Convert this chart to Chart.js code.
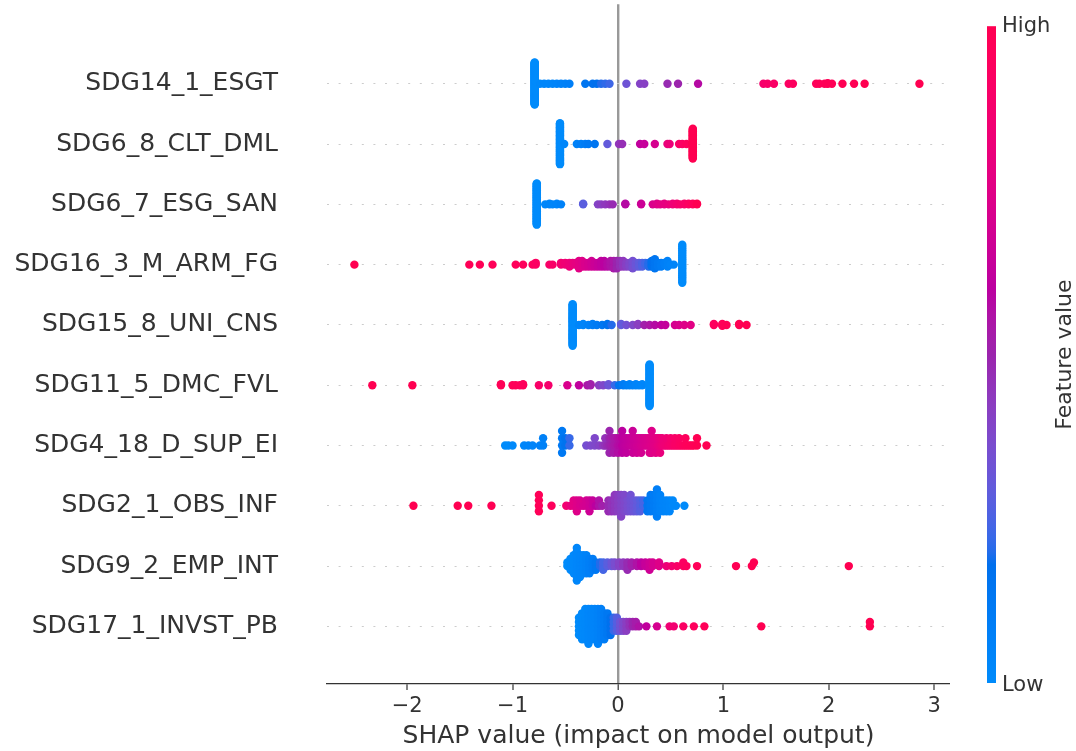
<!DOCTYPE html>
<html>
<head>
<meta charset="utf-8">
<script src="https://cdn.jsdelivr.net/npm/chart.js@4"></script>
<style>
  body { margin: 0; background: #fff; }
  canvas { display: block; }
</style>
</head>
<body>
<canvas id="shapChart" width="1076" height="751"></canvas>
<script>
// feature names, most important first (top row)
const features = ['SDG14_1_ESGT', 'SDG6_8_CLT_DML', 'SDG6_7_ESG_SAN', 'SDG16_3_M_ARM_FG', 'SDG15_8_UNI_CNS',
    'SDG11_5_DMC_FVL', 'SDG4_18_D_SUP_EI', 'SDG2_1_OBS_INF', 'SDG9_2_EMP_INT', 'SDG17_1_INVST_PB'];
const xTicks = [-2, -1, 0, 1, 2, 3];

// each entry: [shap value, feature value (0 = low, 1 = high), number of samples]
const esgt = [[-0.79, 0, 88],
    [-0.74, 0.02, 1], [-0.70, 0.03, 1], [-0.66, 0.03, 1], [-0.62, 0.04, 1], [-0.58, 0.05, 1], [-0.54, 0.06, 1], [-0.50, 0.07, 1], [-0.46, 0.08, 1],
    [-0.31, 0.15, 1], [-0.24, 0.17, 1], [-0.20, 0.18, 1], [-0.16, 0.2, 1], [-0.12, 0.21, 1], [-0.08, 0.23, 1],
    [0.08, 0.33, 1], [0.21, 0.4, 1], [0.25, 0.41, 1], [0.47, 0.48, 1], [0.57, 0.5, 1], [0.76, 0.58, 1],
    [1.38, 0.88, 1], [1.42, 0.9, 1], [1.48, 0.91, 1], [1.62, 0.93, 1], [1.66, 0.94, 1],
    [1.88, 0.96, 1], [1.91, 0.97, 1], [1.96, 0.97, 1], [1.99, 0.98, 2], [2.03, 0.98, 1], [2.13, 0.99, 1], [2.24, 0.99, 1], [2.34, 1, 1], [2.86, 1, 1]];
const cltDml = [[-0.55, 0, 52], [-0.51, 0.03, 1],
    [-0.39, 0.06, 1], [-0.35, 0.08, 1], [-0.31, 0.1, 1], [-0.28, 0.12, 1], [-0.22, 0.15, 1], [-0.10, 0.3, 1],
    [0.01, 0.45, 1], [0.04, 0.47, 1], [0.21, 0.62, 1], [0.25, 0.64, 1], [0.35, 0.7, 1], [0.47, 0.8, 1], [0.49, 0.82, 1],
    [0.58, 0.9, 1], [0.61, 0.92, 1], [0.65, 0.95, 1], [0.71, 1, 38]];
const esgSan = [[-0.77, 0, 60],
    [-0.69, 0.03, 1], [-0.65, 0.04, 2], [-0.62, 0.04, 1], [-0.58, 0.05, 2], [-0.54, 0.06, 1],
    [-0.33, 0.28, 2],
    [-0.19, 0.4, 1], [-0.16, 0.42, 1], [-0.12, 0.44, 1], [-0.08, 0.46, 1], [-0.05, 0.48, 1],
    [0.07, 0.58, 2], [0.22, 0.66, 2],
    [0.33, 0.72, 1], [0.37, 0.74, 2], [0.40, 0.76, 1], [0.44, 0.78, 2], [0.48, 0.8, 1], [0.52, 0.83, 2],
    [0.56, 0.86, 2], [0.59, 0.88, 1], [0.63, 0.9, 2], [0.67, 0.93, 2], [0.71, 0.96, 2], [0.75, 1, 2]];
const armFg = [[-2.50, 1, 1], [-1.41, 0.98, 1], [-1.31, 0.98, 1], [-1.19, 0.97, 1],
    [-0.97, 0.96, 1], [-0.90, 0.95, 1], [-0.81, 0.94, 1], [-0.78, 0.93, 2], [-0.65, 0.9, 1], [-0.62, 0.9, 1],
    [-0.54, 0.86, 2], [-0.50, 0.84, 2], [-0.46, 0.82, 3], [-0.43, 0.8, 2], [-0.40, 0.78, 2], [-0.37, 0.76, 3],
    [-0.34, 0.74, 4], [-0.31, 0.72, 3], [-0.28, 0.7, 3], [-0.25, 0.68, 4], [-0.22, 0.66, 3], [-0.19, 0.64, 3],
    [-0.16, 0.62, 4], [-0.13, 0.6, 4], [-0.10, 0.58, 3], [-0.07, 0.56, 4], [-0.04, 0.54, 5], [-0.01, 0.5, 5],
    [0.02, 0.47, 4], [0.05, 0.44, 4], [0.08, 0.41, 3], [0.11, 0.38, 3], [0.14, 0.35, 5], [0.17, 0.32, 3],
    [0.20, 0.29, 3], [0.23, 0.26, 3], [0.26, 0.23, 2], [0.29, 0.2, 3], [0.32, 0.17, 4], [0.35, 0.14, 6],
    [0.38, 0.12, 3], [0.41, 0.1, 3], [0.44, 0.08, 2], [0.47, 0.06, 2], [0.50, 0.05, 1], [0.53, 0.04, 1],
    [0.61, 0, 22]];
const uniCns = [[-0.43, 0, 45],
    [-0.37, 0.04, 1], [-0.33, 0.05, 2], [-0.28, 0.07, 1], [-0.24, 0.09, 2], [-0.20, 0.11, 1], [-0.15, 0.14, 1], [-0.10, 0.17, 2], [-0.06, 0.2, 1],
    [0.03, 0.3, 2], [0.08, 0.34, 1], [0.14, 0.38, 1], [0.19, 0.42, 2],
    [0.25, 0.52, 1], [0.30, 0.55, 1], [0.35, 0.58, 1], [0.41, 0.61, 1], [0.45, 0.63, 1],
    [0.54, 0.7, 1], [0.58, 0.72, 1], [0.63, 0.74, 1], [0.69, 0.76, 1],
    [0.91, 0.95, 2], [0.99, 0.97, 3], [1.03, 0.98, 1], [1.15, 0.99, 2], [1.22, 1, 1]];
const dmcFvl = [[-2.33, 1, 1], [-1.95, 1, 1], [-1.11, 0.98, 2], [-1.00, 0.97, 1], [-0.97, 0.97, 1], [-0.93, 0.96, 1], [-0.90, 0.96, 2],
    [-0.75, 0.9, 1], [-0.66, 0.88, 1], [-0.48, 0.72, 1], [-0.37, 0.62, 1], [-0.29, 0.55, 1], [-0.26, 0.52, 2],
    [-0.18, 0.42, 1], [-0.14, 0.38, 1], [-0.09, 0.32, 2], [-0.03, 0.22, 1], [0.01, 0.15, 1],
    [0.05, 0.1, 2], [0.08, 0.08, 1], [0.11, 0.07, 2], [0.14, 0.06, 1], [0.17, 0.05, 2], [0.20, 0.04, 1], [0.23, 0.03, 2],
    [0.30, 0, 45]];
const supEi = [[-1.07, 0, 1], [-1.04, 0, 1], [-1.00, 0.01, 1],
    [-0.89, 0.03, 1], [-0.85, 0.04, 1], [-0.81, 0.05, 1], [-0.74, 0.06, 1], [-0.71, 0.07, 2],
    [-0.53, 0.12, 4], [-0.50, 0.16, 2], [-0.46, 0.22, 2],
    [-0.30, 0.35, 1], [-0.26, 0.37, 1], [-0.22, 0.38, 2], [-0.18, 0.4, 1],
    [-0.14, 0.44, 1], [-0.12, 0.46, 2], [-0.10, 0.48, 1], [-0.08, 0.5, 4], [-0.06, 0.52, 2], [-0.04, 0.54, 3],
    [-0.02, 0.55, 2], [0.00, 0.57, 3], [0.02, 0.58, 2], [0.04, 0.6, 4], [0.06, 0.61, 2], [0.08, 0.62, 3],
    [0.10, 0.63, 2], [0.12, 0.64, 2], [0.14, 0.65, 4], [0.16, 0.66, 2], [0.18, 0.67, 3], [0.20, 0.68, 2],
    [0.22, 0.69, 3], [0.24, 0.7, 2], [0.26, 0.71, 2], [0.28, 0.72, 2], [0.30, 0.73, 3], [0.32, 0.74, 4],
    [0.34, 0.75, 2], [0.36, 0.76, 3], [0.38, 0.78, 2], [0.40, 0.8, 3], [0.42, 0.82, 2], [0.44, 0.83, 1],
    [0.46, 0.84, 2], [0.48, 0.86, 1], [0.50, 0.87, 2], [0.52, 0.88, 1], [0.54, 0.9, 2], [0.56, 0.9, 1],
    [0.58, 0.92, 2], [0.60, 0.93, 1], [0.62, 0.94, 1], [0.64, 0.95, 2], [0.66, 0.96, 1], [0.68, 0.96, 1],
    [0.70, 0.97, 1], [0.72, 0.98, 1], [0.75, 0.99, 2], [0.84, 1, 1]];
const obsInf = [[-1.94, 1, 1], [-1.52, 1, 1], [-1.42, 1, 1], [-1.20, 0.99, 1],
    [-0.75, 0.97, 4], [-0.63, 0.95, 1],
    [-0.49, 0.86, 1], [-0.45, 0.8, 1], [-0.42, 0.76, 2], [-0.39, 0.74, 3], [-0.36, 0.72, 2], [-0.33, 0.7, 1],
    [-0.30, 0.69, 2], [-0.27, 0.67, 3], [-0.24, 0.64, 2], [-0.21, 0.6, 1], [-0.18, 0.56, 2], [-0.15, 0.52, 1],
    [-0.09, 0.48, 3], [-0.06, 0.46, 3], [-0.03, 0.44, 4], [0.00, 0.42, 4], [0.03, 0.4, 5], [0.06, 0.38, 4],
    [0.09, 0.36, 3], [0.12, 0.34, 4], [0.15, 0.32, 3], [0.18, 0.3, 3], [0.21, 0.27, 3], [0.24, 0.24, 2],
    [0.28, 0.14, 3], [0.31, 0.12, 4], [0.34, 0.1, 4], [0.37, 0.08, 6], [0.40, 0.06, 4], [0.43, 0.05, 3],
    [0.46, 0.04, 3], [0.49, 0.03, 3], [0.52, 0.02, 2], [0.55, 0.02, 1], [0.63, 0, 1]];
const empInt = [[-0.48, 0, 2], [-0.45, 0.01, 4], [-0.42, 0.02, 6], [-0.39, 0.03, 10], [-0.36, 0.04, 7],
    [-0.33, 0.05, 6], [-0.30, 0.06, 6], [-0.27, 0.08, 5], [-0.24, 0.1, 4], [-0.21, 0.13, 3],
    [-0.17, 0.2, 2], [-0.14, 0.24, 3], [-0.10, 0.28, 2], [-0.06, 0.32, 2], [-0.03, 0.36, 2],
    [0.01, 0.4, 2], [0.05, 0.44, 2], [0.09, 0.48, 3], [0.13, 0.52, 2], [0.18, 0.56, 2], [0.22, 0.6, 2],
    [0.26, 0.64, 2], [0.30, 0.67, 3], [0.33, 0.7, 2], [0.39, 0.74, 2],
    [0.46, 0.82, 1], [0.51, 0.86, 1], [0.56, 0.9, 1], [0.62, 0.93, 2], [0.65, 0.94, 1], [0.75, 0.97, 1],
    [1.12, 0.99, 1], [1.27, 1, 1], [1.29, 1, 1], [2.19, 1, 1]];
const invstPb = [[-0.37, 0, 5], [-0.34, 0.01, 7], [-0.31, 0.02, 8], [-0.28, 0.03, 9], [-0.25, 0.04, 8],
    [-0.22, 0.05, 8], [-0.19, 0.06, 9], [-0.16, 0.08, 8], [-0.13, 0.1, 7], [-0.10, 0.13, 6],
    [-0.07, 0.17, 5], [-0.04, 0.22, 4], [-0.01, 0.27, 4],
    [0.02, 0.33, 3], [0.05, 0.38, 3], [0.08, 0.42, 3], [0.11, 0.46, 2], [0.14, 0.5, 2], [0.17, 0.53, 2], [0.20, 0.56, 1],
    [0.27, 0.62, 1], [0.37, 0.7, 1], [0.49, 0.84, 1], [0.53, 0.86, 1], [0.62, 0.92, 1], [0.72, 0.95, 1],
    [0.82, 0.97, 1], [1.36, 1, 1], [2.39, 1, 2]];

const rowsData = [esgt, cltDml, esgSan, armFg, uniCns, dmcFvl, supEi, obsInf, empInt, invstPb];

// shap's red_blue colormap: interpolation in LCH space, blue -> dark mid -> red
function redBlue(t) {
    t = Math.min(1, Math.max(0, t));
    const l = t < 0.5 ? 54 + (40 - 54) * t * 2 : 40 + (54 - 40) * (t - 0.5) * 2;
    const c = 70 + 20 * t;
    const h = 4.6588 + (0.35470565 + 2 * Math.PI - 4.6588) * t;
    const a = c * Math.cos(h), b = c * Math.sin(h);
    const fy = (l + 16) / 116, fx = fy + a / 500, fz = fy - b / 200;
    const inv = v => v > 6 / 29 ? v * v * v : 3 * (6 / 29) * (6 / 29) * (v - 4 / 29);
    const X = 0.95047 * inv(fx), Y = inv(fy), Z = 1.08883 * inv(fz);
    const lin = [3.2406 * X - 1.5372 * Y - 0.4986 * Z,
        -0.9689 * X + 1.8758 * Y + 0.0415 * Z,
        0.0557 * X - 0.2040 * Y + 1.0570 * Z];
    const rgb = lin.map(v => {
        v = v <= 0.0031308 ? 12.92 * v : 1.055 * Math.pow(Math.max(v, 0), 1 / 2.4) - 0.055;
        return Math.round(255 * Math.min(1, Math.max(0, v)));
    });
    return 'rgb(' + rgb.join(',') + ')';
}

// beeswarm offsets, same binning as shap's summary plot
function swarm(vals) {
    const lo = Math.min(...vals), hi = Math.max(...vals);
    const quant = vals.map(v => Math.round(100 * (v - lo) / (hi - lo + 1e-8)));
    const inds = vals.map((v, i) => i).sort((p, q) => quant[p] - quant[q] || p - q);
    const ys = new Array(vals.length).fill(0);
    let layer = 0, last = -1;
    inds.forEach(i => {
        if (quant[i] !== last) layer = 0;
        ys[i] = Math.ceil(layer / 2) * ((layer % 2) * 2 - 1);
        layer++;
        last = quant[i];
    });
    const m = Math.max(...ys.map(y => y + 1));
    return ys.map(y => y * 0.9 * (0.4 / m));
}

const datasets = rowsData.map((groups, i) => {
    const shap = [], feat = [];
    groups.forEach(([s, f, n]) => {
        for (let k = 0; k < n; k++) { shap.push(s); feat.push(f); }
    });
    const offs = swarm(shap);
    const rowY = features.length - 1 - i;
    return {
        label: features[i],
        data: shap.map((s, k) => ({x: s, y: rowY + offs[k]})),
        pointBackgroundColor: feat.map(redBlue),
        pointBorderWidth: 0,
        pointRadius: 4.2,
        pointHoverRadius: 4.2
    };
});

// vertical colour bar with High / Low labels
const colorBar = {
    id: 'colorBar',
    afterDraw(chart) {
        const ctx = chart.ctx;
        const area = chart.chartArea;
        const x = area.right + 37, w = 9;
        const top = area.top + 22, bottom = area.bottom - 1;
        const g = ctx.createLinearGradient(0, bottom, 0, top);
        for (let i = 0; i <= 50; i++) g.addColorStop(i / 50, redBlue(i / 50));
        ctx.save();
        ctx.fillStyle = g;
        ctx.fillRect(x, top, w, bottom - top);
        ctx.fillStyle = '#333';
        ctx.font = '21px "DejaVu Sans"';
        ctx.textAlign = 'left';
        ctx.textBaseline = 'middle';
        ctx.fillText('High', x + w + 6, top);
        ctx.fillText('Low', x + w + 6, bottom + 3);
        ctx.translate(x + w + 69, (top + bottom) / 2);
        ctx.rotate(-Math.PI / 2);
        ctx.textAlign = 'center';
        ctx.font = '22px "DejaVu Sans"';
        ctx.fillText('Feature value', 0, 0);
        ctx.restore();
    }
};

Chart.defaults.font.family = '"DejaVu Sans"';

new Chart(document.getElementById('shapChart').getContext('2d'), {
    type: 'scatter',
    data: { datasets: datasets },
    options: {
        responsive: false,
        animation: false,
        devicePixelRatio: 1,
        events: [],
        layout: { padding: { left: 0, right: 126, top: 0, bottom: 0 } },
        plugins: {
            legend: { display: false },
            tooltip: { enabled: false }
        },
        scales: {
            x: {
                type: 'linear',
                min: -2.76,
                max: 3.15,
                afterBuildTicks: s => { s.ticks = xTicks.map(v => ({value: v})); },
                afterFit: s => { s.height = 67; },
                ticks: {
                    color: '#333',
                    font: { size: 21 },
                    padding: 4,
                    callback: v => String(v).replace('-', '\u2212')
                },
                grid: {
                    color: c => (c.tick && c.tick.value === 0) ? '#999' : 'rgba(0,0,0,0)',
                    lineWidth: c => (c.tick && c.tick.value === 0) ? 2.4 : 0,
                    tickColor: '#333',
                    tickLength: 6,
                    tickWidth: 1.2
                },
                border: { display: true, color: '#333', width: 1.3 },
                title: {
                    display: true,
                    text: 'SHAP value (impact on model output)',
                    color: '#333',
                    font: { size: 25 },
                    padding: { top: 0, bottom: 0 }
                }
            },
            y: {
                type: 'linear',
                min: -0.956,
                max: 10.32,
                afterBuildTicks: s => { s.ticks = features.map((f, i) => ({value: i})); },
                afterFit: s => { s.width = 327; s.paddingTop = 0; s.paddingBottom = 0; },
                ticks: {
                    color: '#333',
                    font: { size: 25 },
                    padding: 0,
                    callback: v => features[features.length - 1 - v]
                },
                grid: {
                    color: '#ccc',
                    lineWidth: 1,
                    drawTicks: true,
                    tickLength: 49,
                    tickColor: 'rgba(0,0,0,0)'
                },
                border: { display: false, dash: [2, 9.6] }
            }
        }
    },
    plugins: [colorBar]
});
</script>
</body>
</html>
